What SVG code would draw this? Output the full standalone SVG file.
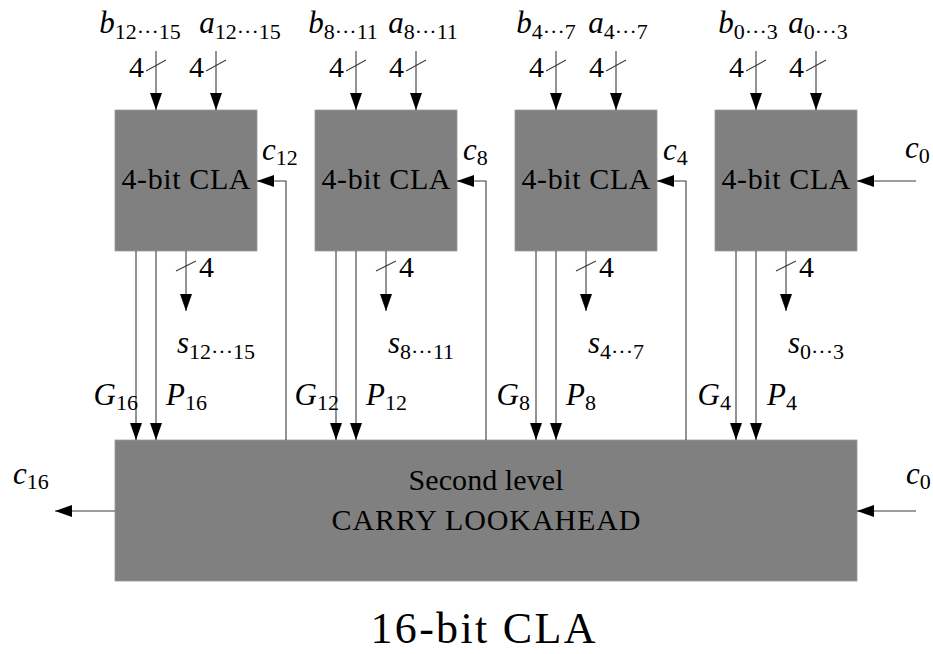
<svg xmlns="http://www.w3.org/2000/svg" width="933" height="654" viewBox="0 0 933 654">
<style>
.box{fill:#808080;stroke:#9a9a9a;stroke-width:0.8}
.w{fill:none;stroke:#3c3c3c;stroke-width:1.1}
.arr{marker-end:url(#ah)}
.t{font-family:"Liberation Serif","DejaVu Serif",serif;font-size:30px;fill:#000}
.m{font-family:"Liberation Serif","DejaVu Serif",serif;font-size:31px;font-style:italic;fill:#000}
.sub{font-style:normal;font-size:22px}
.mid{text-anchor:middle}
.end{text-anchor:end}
</style>
<defs>
<marker id="ah" markerUnits="userSpaceOnUse" markerWidth="18" markerHeight="12" refX="17" refY="6" orient="auto">
<path d="M0,0 L17,6 L0,12 Z" fill="#000"/>
</marker>
</defs>
<rect width="933" height="654" fill="#fff"/>

<g id="cla3">
<rect class="box" x="115" y="110" width="142" height="141"/>
<text class="t mid" x="186" y="189" textLength="129">4-bit CLA</text>
</g>
<g id="cla2">
<rect class="box" x="315" y="110" width="142" height="141"/>
<text class="t mid" x="386" y="189" textLength="129">4-bit CLA</text>
</g>
<g id="cla1">
<rect class="box" x="515" y="110" width="142" height="141"/>
<text class="t mid" x="586" y="189" textLength="129">4-bit CLA</text>
</g>
<g id="cla0">
<rect class="box" x="715" y="110" width="142" height="141"/>
<text class="t mid" x="786" y="189" textLength="129">4-bit CLA</text>
</g>
<g id="second">
<rect class="box" x="115" y="440" width="742" height="141"/>
<text class="t mid" x="486" y="490" textLength="155">Second level</text>
<text class="t mid" x="486" y="530" textLength="309">CARRY LOOKAHEAD</text>
</g>

<g id="connectors">
<path class="w arr" d="M156,51 V110"/>
<path class="w arr" d="M216,51 V110"/>
<path class="w arr" d="M356,51 V110"/>
<path class="w arr" d="M416,51 V110"/>
<path class="w arr" d="M556,51 V110"/>
<path class="w arr" d="M616,51 V110"/>
<path class="w arr" d="M756,51 V110"/>
<path class="w arr" d="M816,51 V110"/>
<path class="w" d="M146,71 L166,60 M206,71 L226,60 M346,71 L366,60 M406,71 L426,60 M546,71 L566,60 M606,71 L626,60 M746,71 L766,60 M806,71 L826,60"/>
<path class="w arr" d="M136,251 V440"/>
<path class="w arr" d="M156,251 V440"/>
<path class="w arr" d="M336,251 V440"/>
<path class="w arr" d="M356,251 V440"/>
<path class="w arr" d="M536,251 V440"/>
<path class="w arr" d="M556,251 V440"/>
<path class="w arr" d="M736,251 V440"/>
<path class="w arr" d="M756,251 V440"/>
<path class="w arr" d="M186,251 V311"/>
<path class="w arr" d="M386,251 V311"/>
<path class="w arr" d="M586,251 V311"/>
<path class="w arr" d="M786,251 V311"/>
<path class="w" d="M176,271 L196,261 M376,271 L396,261 M576,271 L596,261 M776,271 L796,261"/>
<path class="w arr" d="M286,440 V181 H257"/>
<path class="w arr" d="M486,440 V181 H457"/>
<path class="w arr" d="M686,440 V181 H657"/>
<path class="w arr" d="M916,181 H857"/>
<path class="w arr" d="M916,511 H857"/>
<path class="w arr" d="M115,511 H55"/>
</g>

<g id="labels">
<text class="m mid" x="140" y="33">b<tspan class="sub" dy="6">12···15</tspan></text>
<text class="m mid" x="240" y="33">a<tspan class="sub" dy="6">12···15</tspan></text>
<text class="m mid" x="343" y="33">b<tspan class="sub" dy="6">8···11</tspan></text>
<text class="m mid" x="423" y="33">a<tspan class="sub" dy="6">8···11</tspan></text>
<text class="m mid" x="546" y="33">b<tspan class="sub" dy="6">4···7</tspan></text>
<text class="m mid" x="618" y="33">a<tspan class="sub" dy="6">4···7</tspan></text>
<text class="m mid" x="748" y="33">b<tspan class="sub" dy="6">0···3</tspan></text>
<text class="m mid" x="818" y="33">a<tspan class="sub" dy="6">0···3</tspan></text>

<text class="t end" x="144" y="77">4</text>
<text class="t end" x="204" y="77">4</text>
<text class="t end" x="344" y="77">4</text>
<text class="t end" x="404" y="77">4</text>
<text class="t end" x="544" y="77">4</text>
<text class="t end" x="604" y="77">4</text>
<text class="t end" x="744" y="77">4</text>
<text class="t end" x="804" y="77">4</text>

<text class="t" x="199" y="277">4</text>
<text class="t" x="399" y="277">4</text>
<text class="t" x="599" y="277">4</text>
<text class="t" x="799" y="277">4</text>

<text class="m mid" x="216" y="353">s<tspan class="sub" dy="6">12···15</tspan></text>
<text class="m mid" x="421" y="353">s<tspan class="sub" dy="6">8···11</tspan></text>
<text class="m mid" x="616" y="353">s<tspan class="sub" dy="6">4···7</tspan></text>
<text class="m mid" x="816" y="353">s<tspan class="sub" dy="6">0···3</tspan></text>

<text class="m end" x="138" y="405">G<tspan class="sub" dy="5">16</tspan></text>
<text class="m end" x="339" y="405">G<tspan class="sub" dy="5">12</tspan></text>
<text class="m end" x="530" y="405">G<tspan class="sub" dy="5">8</tspan></text>
<text class="m end" x="731" y="405">G<tspan class="sub" dy="5">4</tspan></text>
<text class="m" x="166" y="405">P<tspan class="sub" dy="5">16</tspan></text>
<text class="m" x="366" y="405">P<tspan class="sub" dy="5">12</tspan></text>
<text class="m" x="566" y="405">P<tspan class="sub" dy="5">8</tspan></text>
<text class="m" x="767" y="405">P<tspan class="sub" dy="5">4</tspan></text>

<text class="m" x="262" y="160">c<tspan class="sub" dy="5">12</tspan></text>
<text class="m" x="463" y="160">c<tspan class="sub" dy="5">8</tspan></text>
<text class="m" x="663" y="160">c<tspan class="sub" dy="5">4</tspan></text>
<text class="m" x="905" y="158">c<tspan class="sub" dy="5">0</tspan></text>
<text class="m" x="906" y="484">c<tspan class="sub" dy="5">0</tspan></text>
<text class="m" x="13" y="484">c<tspan class="sub" dy="5">16</tspan></text>

<text class="t mid" x="483" y="643" textLength="225" style="font-size:44px">16-bit CLA</text>
</g>
</svg>
